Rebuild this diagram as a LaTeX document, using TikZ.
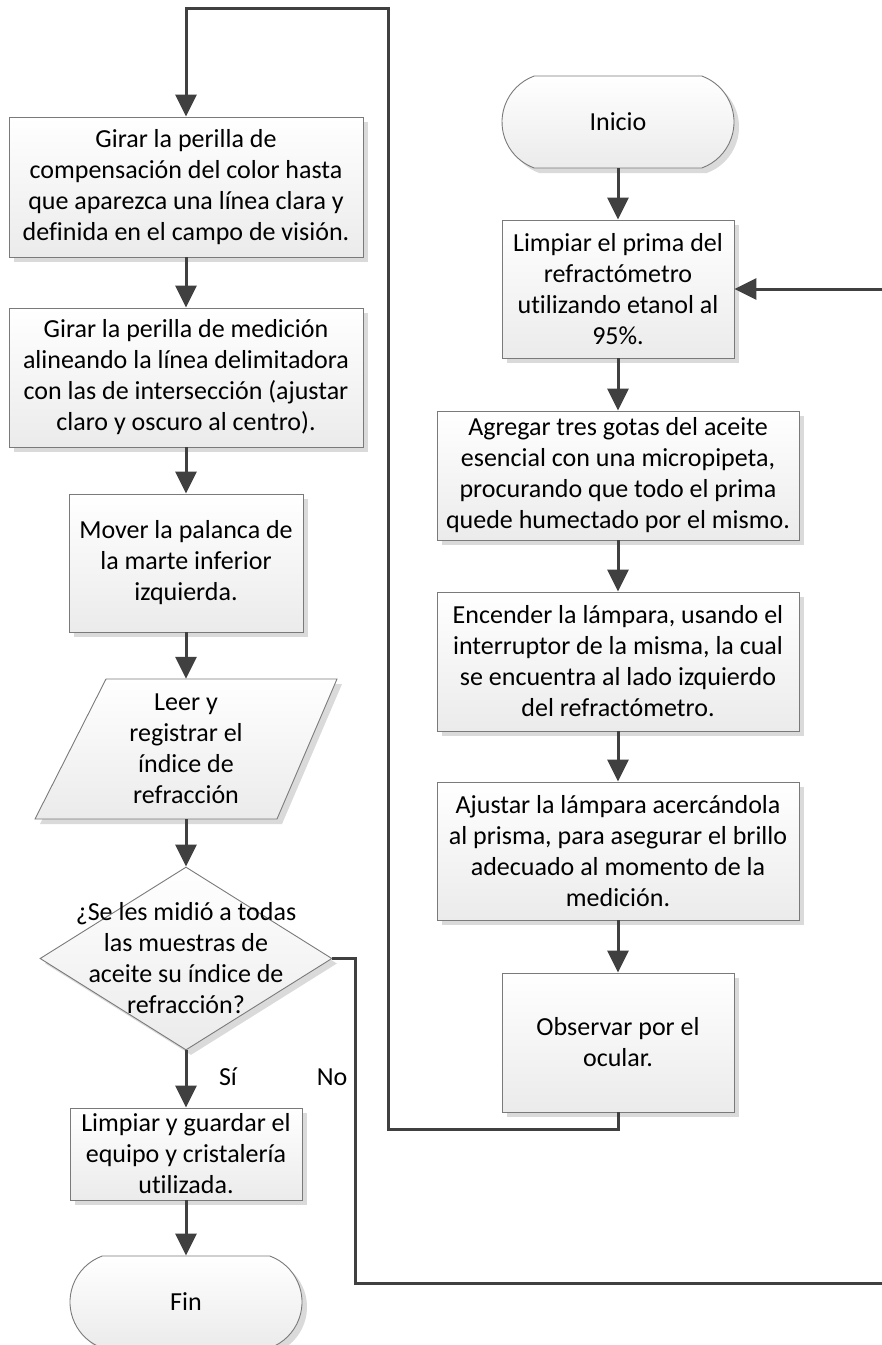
\documentclass[tikz,border=0pt]{standalone}
\usepackage{fontspec}
\setmainfont{Carlito}[Ligatures={NoCommon}]
\usetikzlibrary{arrows.meta,shapes.geometric,shapes.misc,shadows}
\newcommand\flowfont{\fontsize{26}{31}\selectfont}
\definecolor{linegray}{HTML}{404040}
\definecolor{bordergray}{HTML}{7A7A7A}
\definecolor{shadowgray}{HTML}{DADADA}
\definecolor{fillbottom}{HTML}{EBEBEB}
\tikzset{
  shapebase/.style={draw=bordergray, line width=0.9pt, top color=white, bottom color=fillbottom,
    drop shadow={shadow xshift=5pt, shadow yshift=-5pt, fill=shadowgray, opacity=1}},
  procbox/.style={shapebase, rectangle, align=center, inner sep=0pt, font=\flowfont},
  termbox/.style={shapebase, rounded rectangle, rounded rectangle arc length=140,
    minimum width=232pt, minimum height=92pt, inner sep=0pt, font=\flowfont},
  decbox/.style={shapebase, diamond, minimum width=292pt, minimum height=183pt, inner sep=0pt},
  txt/.style={align=center, inner sep=0pt, font=\flowfont},
  conn/.style={draw=linegray, line width=3pt},
  arr/.style={conn, -{Triangle[width=21pt,length=22pt]}},
}
\begin{document}
\begin{tikzpicture}[x=1pt,y=-1pt]
\fill[white] (0,0) rectangle (882,1345);
\useasboundingbox (0,0) rectangle (882,1345);

% right column
\node[termbox] (ini) at (618,122) {Inicio};
\node[procbox, minimum width=232pt, minimum height=138pt] (lp) at (618,289)
  {Limpiar el prima del\\refractómetro\\utilizando etanol al\\95\%.};
\node[procbox, minimum width=362pt, minimum height=129pt] (ag) at (618,475.5)
  {Agregar tres gotas del aceite\\esencial con una micropipeta,\\procurando que todo el prima\\quede humectado por el mismo.};
\node[procbox, minimum width=362pt, minimum height=139pt] (en) at (618,661.5)
  {Encender la lámpara, usando el\\interruptor de la misma, la cual\\se encuentra al lado izquierdo\\del refractómetro.};
\node[procbox, minimum width=362pt, minimum height=138pt] (aj) at (618,851)
  {Ajustar la lámpara acercándola\\al prisma, para asegurar el brillo\\adecuado al momento de la\\medición.};
\node[procbox, minimum width=232pt, minimum height=139pt] (ob) at (618,1042.5)
  {Observar por el\\ocular.};

% left column
\node[procbox, minimum width=354pt, minimum height=140pt] (g1) at (186,187)
  {Girar la perilla de\\compensación del color hasta\\que aparezca una línea clara y\\definida en el campo de visión.};
\node[procbox, minimum width=354pt, minimum height=139pt] (g2) at (186,377.5)
  {Girar la perilla de medición\\alineando la línea delimitadora\\con las de intersección (ajustar\\claro y oscuro al centro).};
\node[procbox, minimum width=234pt, minimum height=138pt] (mv) at (186,563)
  {Mover la palanca de\\la marte inferior\\izquierda.};
\path[shapebase] (106,679) -- (337,679) -- (277,819) -- (35,819) -- cycle;
\node[txt, minimum height=140pt] (par) at (186,749)
  {Leer y\\registrar el\\índice de\\refracción};
\node[decbox] (dia) at (186,958.5) {};
\node[txt] (diatxt) at (dia.center)
  {¿Se les midió a todas\\las muestras de\\aceite su índice de\\refracción?};
\node[procbox, minimum width=232pt, minimum height=92pt] (lg) at (186,1154)
  {Limpiar y guardar el\\equipo y cristalería\\utilizada.};
\node[termbox] (fin) at (186,1302) {Fin};

% labels
\node[txt] (si) at (228,1077) {Sí};
\node[txt] (no) at (332,1077) {No};

% connectors right column
\draw[arr] (ini.south) -- (lp.north);
\draw[arr] (lp.south) -- (ag.north);
\draw[arr] (ag.south) -- (en.north);
\draw[arr] (en.south) -- (aj.north);
\draw[arr] (aj.south) -- (ob.north);

% loop from Observar to top of left column
\coordinate (c1) at (388,1129);
\coordinate (c2) at (388,8);
\draw[arr] (ob.south) |- (c1) -- (c2) -| (g1.north);

% connectors left column
\draw[arr] (g1.south) -- (g2.north);
\draw[arr] (g2.south) -- (mv.north);
\draw[arr] (mv.south) -- (par.north);
\draw[arr] (par.south) -- (dia.north);
\draw[arr] (dia.south) -- (lg.north);
\draw[arr] (lg.south) -- (fin.north);

% No branch
\coordinate (n1) at (355,1283);
\coordinate (n2) at (887,1283);
\draw[arr] (dia.east) -| (n1) -- (n2) |- (lp.east);
\end{tikzpicture}
\end{document}
